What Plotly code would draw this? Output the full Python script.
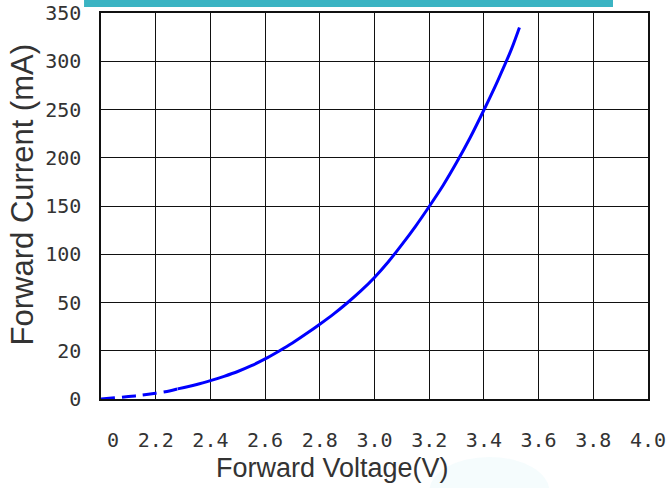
import numpy as np
import plotly.graph_objects as go

# Axis tick definitions
x_tick_values = [2.0, 2.2, 2.4, 2.6, 2.8, 3.0, 3.2, 3.4, 3.6, 3.8, 4.0]
x_tick_labels = ["\u00a0\u00a00", "2.2", "2.4", "2.6", "2.8", "3.0", "3.2", "3.4", "3.6", "3.8", "4.0"]
y_tick_values = [0, 20, 50, 100, 150, 200, 250, 300, 350]   # mA (non-linear axis)
y_tick_labels = ["0", "20", "50", "100", "150", "200", "250", "300", "350"]
x_title = "Forward Voltage(V)"
y_title = "Forward Current (mA)"

# Forward voltage (V) vs forward current (mA)
dashed_voltage = [2.00, 2.05, 2.10, 2.15, 2.20, 2.25, 2.28]
dashed_current = [0.0, 0.5, 1.0, 1.6, 2.4, 3.3, 4.2]

solid_voltage = [2.28, 2.35, 2.40, 2.45, 2.50, 2.55, 2.60, 2.65, 2.70, 2.75, 2.80,
                 2.85, 2.90, 2.95, 3.00, 3.05, 3.10, 3.15, 3.20, 3.25, 3.30, 3.35,
                 3.40, 3.45, 3.50, 3.53]
solid_current = [4.2, 6.0, 7.6, 9.4, 11.4, 13.8, 16.6, 19.8, 24.8, 30.5, 36.5,
                 42.8, 49.7, 62.0, 76.0, 92.0, 110.0, 129.0, 149.5, 171.0, 195.0, 221.0,
                 249.5, 279.5, 312.0, 335.0]

# The current axis is evenly spaced per tick label (0, 20, 50, 100, ...)
y_positions = list(range(len(y_tick_values)))


def to_axis(current):
    return np.interp(current, y_tick_values, y_positions)


fig = go.Figure()
fig.add_trace(go.Scatter(
    x=dashed_voltage, y=to_axis(dashed_current), mode="lines",
    line=dict(color="#0000FF", width=3, dash="14px,7px", shape="spline", smoothing=0.8),
    hoverinfo="skip", showlegend=False,
))
fig.add_trace(go.Scatter(
    x=solid_voltage, y=to_axis(solid_current), mode="lines",
    line=dict(color="#0000FF", width=3, shape="spline", smoothing=0.8),
    showlegend=False,
))

tick_font = dict(family="DejaVu Sans Mono", size=20, color="#333333")
title_font = dict(family="Liberation Sans, Arial, sans-serif", size=27, color="#333333")

fig.update_xaxes(
    range=[2.0, 4.0], tickmode="array", tickvals=x_tick_values, ticktext=x_tick_labels,
    showgrid=True, gridcolor="#111111", gridwidth=1.3,
    showline=True, linecolor="#111111", linewidth=1.5, mirror=True,
    zeroline=False, ticks="", tickfont=tick_font, ticklabelstandoff=22,
    automargin=False,
)
fig.update_yaxes(
    range=[0, len(y_tick_values) - 1], tickmode="array", tickvals=y_positions,
    ticktext=y_tick_labels,
    showgrid=True, gridcolor="#111111", gridwidth=1.3,
    showline=True, linecolor="#111111", linewidth=1.5, mirror=True,
    zeroline=False, ticks="", tickfont=tick_font, ticklabelstandoff=14,
    automargin=False,
)

# axis titles (placed as in the original, slightly off-centre)
fig.add_annotation(text=x_title, xref="paper", yref="paper", x=0.424, y=-0.178,
                   xanchor="center", yanchor="middle", showarrow=False, font=title_font)
fig.add_annotation(text=y_title, xref="paper", yref="paper", x=-0.144, y=0.528,
                   xanchor="center", yanchor="middle", textangle=-90, showarrow=False,
                   font=dict(title_font, size=31))

# decorative teal banner at the top
fig.add_shape(type="rect", xref="paper", yref="paper",
              x0=-0.031, x1=0.936, y0=1.0155, y1=1.04,
              fillcolor="#3BB4C3", line=dict(width=0), layer="above")
# faint cyan smudge below the axis
fig.add_shape(type="circle", xref="paper", yref="paper",
              x0=0.60, x1=0.82, y0=-0.33, y1=-0.15,
              fillcolor="#EEFAFC", opacity=0.6, line=dict(width=0), layer="below")

fig.update_layout(
    width=667, height=488,
    margin=dict(l=101, r=19, t=13, b=89, autoexpand=False),
    paper_bgcolor="white", plot_bgcolor="white",
)

fig.write_html(
    "out.html",
    config={"displayModeBar": False},
    post_script="document.body.style.margin='0';document.body.style.overflow='hidden';",
)
